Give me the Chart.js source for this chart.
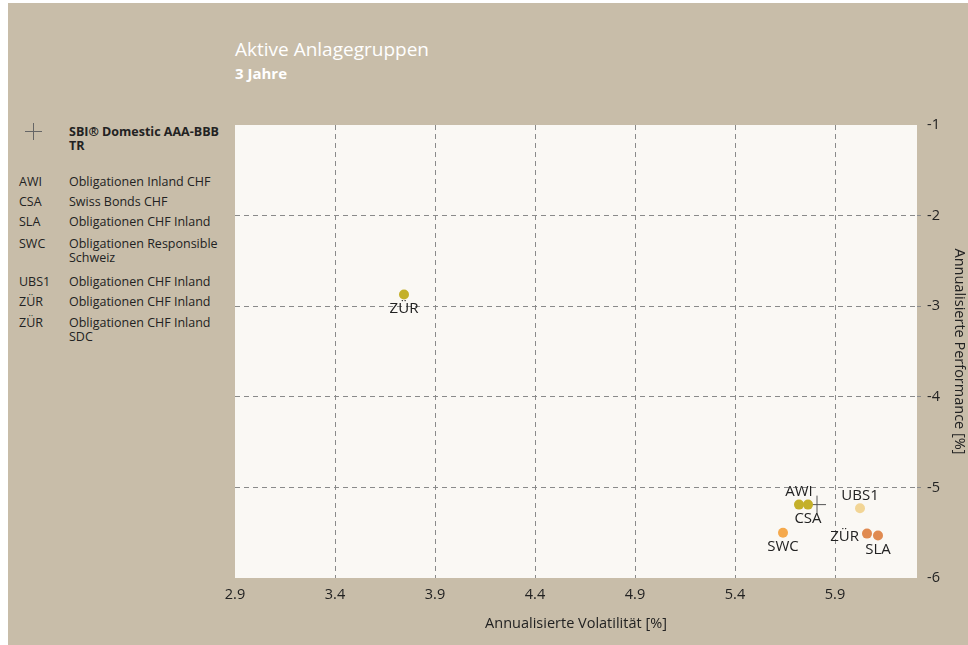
<!DOCTYPE html>
<html>
<head>
<meta charset="utf-8">
<script src="https://cdn.jsdelivr.net/npm/chart.js@4/dist/chart.umd.min.js"></script>
<style>
  html, body { margin: 0; padding: 0; background: #fff; }
  body { width: 968px; height: 645px; position: relative; overflow: hidden;
         font-family: 'Open Sans', sans-serif; }
  #frame { position: absolute; left: 8px; top: 3px; right: 0; bottom: 0; background: #c8bda9; }
  #chart { position: absolute; left: 0; top: 0; }
  #title { position: absolute; left: 235px; top: 36px; color: #fff; font-size: 19px; }
  #subtitle { position: absolute; left: 235px; top: 63px; color: #fff; font-size: 15px; font-weight: bold; }
  .lg { position: absolute; font-size: 12.5px; color: #222; line-height: 14px; }
  .lg .code { position: absolute; left: 19px; }
  .lg .name { position: absolute; left: 69px; width: 168px; }
  #bench { position: absolute; left: 69px; top: 125px; width: 160px; font-size: 12.5px;
           font-weight: bold; color: #222; line-height: 14px; }
  .cross { position: absolute; background: #666; }
</style>
</head>
<body>
<div id="frame"></div>
<div id="title">Aktive Anlagegruppen</div>
<div id="subtitle">3 Jahre</div>
<div class="cross" style="left:25px; top:131px; width:17px; height:1px;"></div>
<div class="cross" style="left:33px; top:123px; width:1px; height:17px;"></div>
<div id="bench"></div>
<div id="legend"></div>
<canvas id="chart" width="968" height="645"></canvas>
<script>
// fund codes and names, in legend order
const codes = ['AWI', 'CSA', 'SLA', 'SWC', 'UBS1', 'ZÜR', 'ZÜR'];
const names = [
  'Obligationen Inland CHF',
  'Swiss Bonds CHF',
  'Obligationen CHF Inland',
  'Obligationen Responsible Schweiz',
  'Obligationen CHF Inland',
  'Obligationen CHF Inland',
  'Obligationen CHF Inland SDC'
];
// annualised volatility and performance, in percent
const volatility = [5.72, 5.765, 6.115, 5.64, 6.025, 3.745, 6.06];
const performance = [-5.19, -5.19, -5.53, -5.50, -5.23, -2.87, -5.51];

const benchName = 'SBI® Domestic AAA-BBB TR';
const benchVolatility = [5.81];
const benchPerformance = [-5.19];

const xTicks = [2.9, 3.4, 3.9, 4.4, 4.9, 5.4, 5.9];
const yTicks = [-1, -2, -3, -4, -5, -6];

const pointColors = ['#c4b02a', '#c4b02a', '#e08a50', '#f5a94c', '#f2d595', '#c4b02a', '#e08a50'];
// where each point's code sits relative to the dot
const labelSide = ['above', 'below', 'below', 'below', 'above', 'below', 'left'];

// legend on the left
document.getElementById('bench').textContent = benchName;
const rowTops = [175, 195, 215, 237, 275, 295, 316];
const legend = document.getElementById('legend');
codes.forEach((code, i) => {
  const row = document.createElement('div');
  row.className = 'lg';
  row.style.top = rowTops[i] + 'px';
  row.innerHTML = '<span class="code"></span><span class="name"></span>';
  row.querySelector('.code').textContent = code;
  row.querySelector('.name').textContent = names[i];
  legend.appendChild(row);
});

const FONT = "'Open Sans', sans-serif";

const plotBackground = {
  id: 'plotBackground',
  beforeDraw(chart) {
    const { ctx, chartArea: a } = chart;
    ctx.save();
    ctx.fillStyle = '#faf8f4';
    ctx.fillRect(a.left, a.top, a.right - a.left, a.bottom - a.top);
    ctx.restore();
  }
};

const pointLabels = {
  id: 'pointLabels',
  afterDatasetsDraw(chart) {
    const { ctx } = chart;
    const meta = chart.getDatasetMeta(0);
    ctx.save();
    ctx.font = '15px ' + FONT;
    ctx.fillStyle = '#222';
    meta.data.forEach((pt, i) => {
      const side = labelSide[i];
      if (side === 'above') {
        ctx.textAlign = 'center';
        ctx.textBaseline = 'bottom';
        ctx.fillText(codes[i], pt.x, pt.y - 5);
      } else if (side === 'below') {
        ctx.textAlign = 'center';
        ctx.textBaseline = 'top';
        ctx.fillText(codes[i], pt.x, pt.y + 7);
      } else {
        ctx.textAlign = 'right';
        ctx.textBaseline = 'middle';
        ctx.fillText(codes[i], pt.x - 8, pt.y + 3);
      }
    });
    ctx.restore();
  }
};

const gridColor = (ctx, edges) =>
  edges.includes(ctx.tick && ctx.tick.value) ? 'rgba(0,0,0,0)' : '#8a8a8a';

new Chart(document.getElementById('chart'), {
  type: 'scatter',
  data: {
    datasets: [
      {
        data: volatility.map((v, i) => ({ x: v, y: performance[i] })),
        pointBackgroundColor: pointColors,
        pointBorderWidth: 0,
        pointRadius: 5
      },
      {
        data: benchVolatility.map((v, i) => ({ x: v, y: benchPerformance[i] })),
        pointStyle: 'cross',
        pointRadius: 9,
        pointBorderColor: '#555',
        pointBorderWidth: 1
      }
    ]
  },
  options: {
    responsive: false,
    animation: false,
    events: [],
    layout: { padding: { left: 235, top: 125, right: 0, bottom: 0 } },
    plugins: { legend: { display: false }, tooltip: { enabled: false } },
    scales: {
      x: {
        type: 'linear',
        min: 2.9,
        max: 6.31,
        afterBuildTicks: (scale) => { scale.ticks = xTicks.map(v => ({ value: v })); },
        afterFit: (scale) => { scale.height = 67; },
        border: { display: false, dash: [5, 4] },
        grid: {
          color: (c) => gridColor(c, [2.9]),
          lineWidth: 1,
          drawTicks: false
        },
        ticks: {
          padding: 8,
          color: '#222',
          font: { family: FONT, size: 14.5 },
          callback: (v) => v.toFixed(1)
        },
        title: {
          display: true,
          text: 'Annualisierte Volatilität [%]',
          color: '#222',
          font: { family: FONT, size: 14.5 },
          padding: { top: 0, bottom: 12 }
        }
      },
      y: {
        type: 'linear',
        position: 'right',
        min: -6,
        max: -1,
        afterBuildTicks: (scale) => { scale.ticks = yTicks.map(v => ({ value: v })); },
        afterFit: (scale) => { scale.width = 51; },
        border: { display: false, dash: [5, 4] },
        grid: {
          color: (c) => gridColor(c, [-1, -6]),
          lineWidth: 1,
          tickLength: 4,
          tickBorderDash: [4, 4]
        },
        ticks: {
          padding: 6,
          color: '#222',
          font: { family: FONT, size: 14.5 }
        },
        title: {
          display: true,
          text: 'Annualisierte Performance [%]',
          color: '#222',
          font: { family: FONT, size: 14.5 },
          padding: { top: 0, bottom: 2 }
        }
      }
    }
  },
  plugins: [plotBackground, pointLabels]
});
</script>
</body>
</html>
